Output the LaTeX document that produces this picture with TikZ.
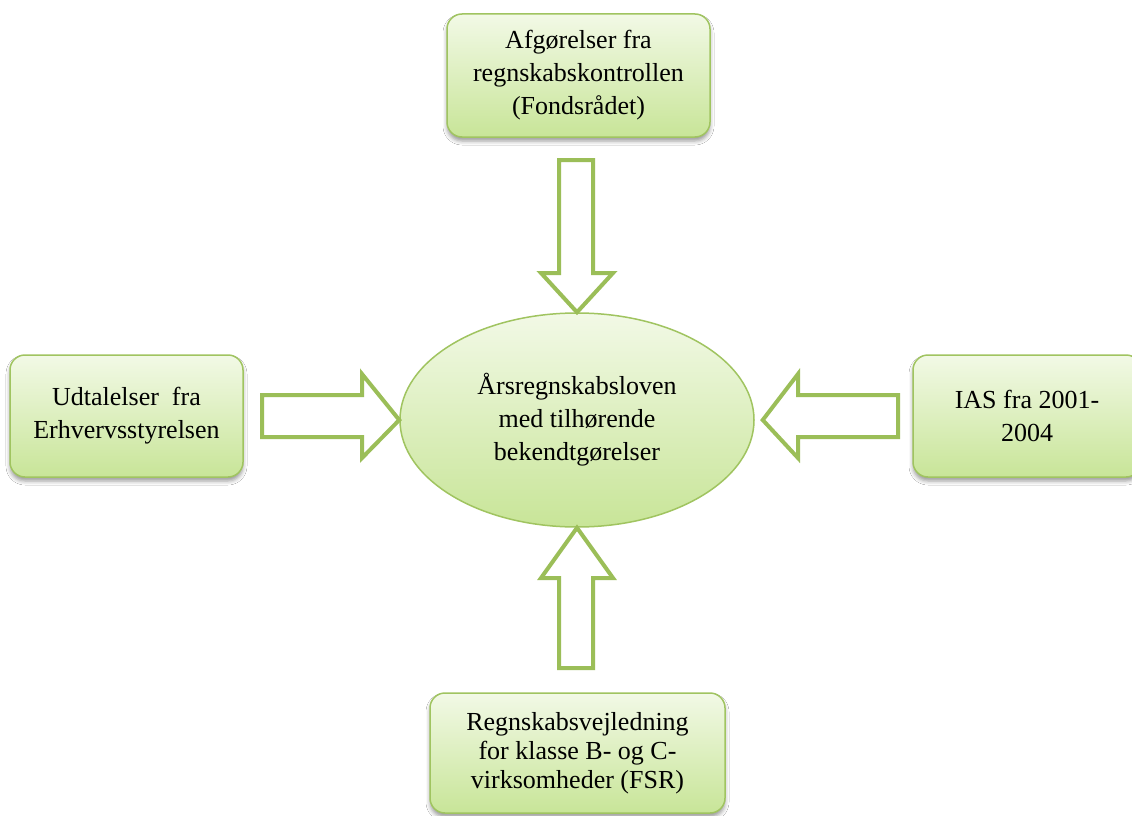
\documentclass[tikz,border=0pt]{standalone}
\usepackage{fontspec}
\setmainfont{Liberation Serif}
\usetikzlibrary{shapes.geometric,shadows.blur}
\definecolor{gborder}{RGB}{160,196,96}
\definecolor{garrow}{RGB}{155,190,88}
\definecolor{gtop}{RGB}{242,249,230}
\definecolor{gbot}{RGB}{200,229,152}
\tikzset{
  srcbox/.style={draw=gborder, line width=1.5pt, rounded corners=15pt,
    top color=gtop, bottom color=gbot, align=center, inner sep=0pt,
    font=\fontsize{26}{33}\selectfont,
    blur shadow={shadow xshift=0pt, shadow yshift=-4pt, shadow blur radius=4pt, shadow opacity=40}},
  centre/.style={draw=gborder, line width=1.5pt, ellipse, top color=gtop, bottom color=gbot,
    align=center, inner sep=0pt, font=\fontsize{26}{33}\selectfont},
  blockarrow/.style={draw=garrow, line width=4pt, fill=white, line join=miter}
}
\begin{document}
\begin{tikzpicture}[x=1pt,y=-1pt]
\useasboundingbox (0,0) rectangle (1132,816);
\fill[white] (0,0) rectangle (1132,816);
% boxes
\node[srcbox, minimum width=263pt, minimum height=123pt] (top) at (578.5,75.5)
  {Afgørelser fra\\regnskabskontrollen\\(Fondsrådet)};
\node[srcbox, minimum width=233pt, minimum height=122pt] (left) at (126.5,416)
  {Udtalelser\ \ fra\\Erhvervsstyrelsen};
\node[srcbox, minimum width=228pt, minimum height=122pt] (right) at (1027,416)
  {IAS fra 2001-\\2004};
\node[srcbox, minimum width=295pt, minimum height=120pt,
  font=\fontsize{26}{29}\selectfont] (bottom) at (577.5,753)
  {Regnskabsvejledning\\for klasse B- og C-\\virksomheder (FSR)};
% centre ellipse
\node[centre, minimum width=354pt, minimum height=214pt] (law) at (577,420)
  {Årsregnskabsloven\\med tilhørende\\bekendtgørelser};
\coordinate (rtip) at ([xshift=8pt]law.east);
% block arrows
\draw[blockarrow] (559,160) -- (593,160) -- (593,273) -- (613,273) -- (law.north)
  -- (541,273) -- (559,273) -- cycle;
\draw[blockarrow] (559,668) -- (593,668) -- (593,578) -- (613,578) -- (law.south)
  -- (541,578) -- (559,578) -- cycle;
\draw[blockarrow] (262,395) -- (362,395) -- (362,374) -- (law.west)
  -- (362,458) -- (362,437) -- (262,437) -- cycle;
\draw[blockarrow] (898,395) -- (798,395) -- (798,374) -- (rtip)
  -- (798,458) -- (798,437) -- (898,437) -- cycle;
\end{tikzpicture}
\end{document}
